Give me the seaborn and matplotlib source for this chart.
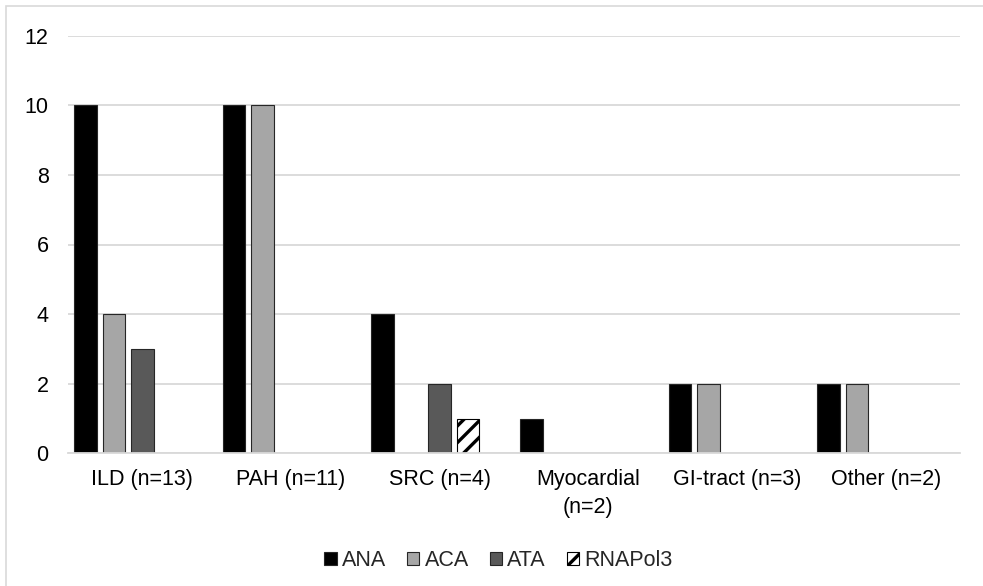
import numpy as np
import pandas as pd
import matplotlib
matplotlib.use("Agg")
import matplotlib.pyplot as plt
from matplotlib.patches import Patch, Rectangle
import seaborn as sns

categories = ["ILD (n=13)", "PAH (n=11)", "SRC (n=4)", "Myocardial\n(n=2)",
              "GI-tract (n=3)", "Other (n=2)"]
ana = [10, 10, 4, 1, 2, 2]
aca = [4, 10, 0, 0, 2, 2]
ata = [3, 0, 2, 0, 0, 0]
rnapol3 = [0, 0, 1, 0, 0, 0]
series = {"ANA": ana, "ACA": aca, "ATA": ata, "RNAPol3": rnapol3}
# an empty fifth slot keeps the spacing of the original grouped layout
hue_levels = ["ANA", "ACA", "ATA", "RNAPol3", "_spare"]
colors = {"ANA": "#000000", "ACA": "#A6A6A6", "ATA": "#595959",
          "RNAPol3": "#FFFFFF", "_spare": "#FFFFFF"}
y_ticks = [0, 2, 4, 6, 8, 10, 12]

rows = []
for name, vals in series.items():
    for cat, v in zip(categories, vals):
        if v > 0:
            rows.append({"category": cat, "marker": name, "count": v})
df = pd.DataFrame(rows)

sns.set_theme(style="white")
plt.rcParams["font.family"] = ["Liberation Sans", "DejaVu Sans"]
plt.rcParams["hatch.linewidth"] = 2.4

fig = plt.figure(figsize=(9.83, 5.86), dpi=100)
ax = fig.add_axes([68 / 983, 1 - 453.3 / 586, (960 - 68) / 983, (453.3 - 35.7) / 586])

sns.barplot(data=df, x="category", y="count", hue="marker",
            order=categories, hue_order=hue_levels, palette=colors,
            width=0.959, gap=0.21, dodge=True, legend=False,
            edgecolor="#262626", linewidth=0.8, ax=ax)

for p in ax.patches:
    fc = p.get_facecolor()
    if fc[0] > 0.99 and fc[1] > 0.99 and fc[2] > 0.99:
        p.set_hatch("//")
        p.set_edgecolor("#000000")

ax.set_ylim(0, 12)
ax.set_xlim(-0.5, len(categories) - 0.5)
ax.set_yticks(y_ticks)
ax.set_xlabel("")
ax.set_ylabel("")
ax.yaxis.grid(True, color="#D9D9D9", linewidth=1.3)
ax.set_axisbelow(True)
for side in ["left", "right", "top"]:
    ax.spines[side].set_visible(False)
ax.spines["bottom"].set_color("#D9D9D9")
ax.spines["bottom"].set_linewidth(1.3)
ax.tick_params(axis="y", length=0, pad=14, labelsize=15.5, labelcolor="#000000")
ax.tick_params(axis="x", length=0, pad=11, labelsize=15.5, labelcolor="#000000")
for lbl in ax.get_xticklabels():
    lbl.set_linespacing(1.45)

handles = []
for name in series:
    if name == "RNAPol3":
        handles.append(Patch(facecolor="white", edgecolor="black", hatch="//",
                             linewidth=0.8, label=name))
    else:
        handles.append(Patch(facecolor=colors[name], edgecolor="#262626",
                             linewidth=0.8, label=name))
fig.legend(handles=handles, loc="center", bbox_to_anchor=(0.507, 1 - 561 / 586),
           ncol=4, frameon=False, fontsize=15.5, handlelength=0.56,
           handleheight=0.56, handletextpad=0.25, columnspacing=0.97)

fig.patches.append(Rectangle((5.5 / 983, -0.1), 1.2, 1.1 - 5.5 / 586,
                             transform=fig.transFigure, fill=False,
                             edgecolor="#D9D9D9", linewidth=1.2))

fig.savefig("out.png", dpi=100, facecolor="white")
